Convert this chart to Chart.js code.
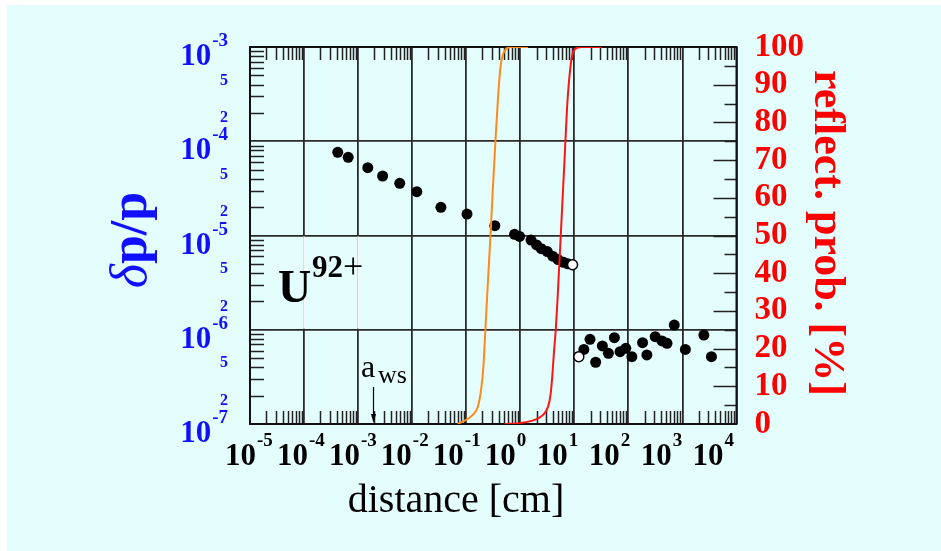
<!DOCTYPE html>
<html>
<head>
<meta charset="utf-8">
<script src="https://cdn.jsdelivr.net/npm/chart.js@4/dist/chart.umd.min.js"></script>
<style>
  html, body { margin: 0; padding: 0; background: #ffffff; }
  #panel { position: absolute; left: 7px; top: 5px; width: 934px; height: 546px; background: #e4fdfd; }
  #chart { position: absolute; left: 0; top: 0; }
</style>
</head>
<body>
<div id="panel"></div>
<canvas id="chart" width="941" height="551"></canvas>
<script>
// momentum spread before the transition region
const upperDist = [4.20e-4, 6.55e-4, 1.51e-3, 2.84e-3, 5.89e-3, 1.22e-2, 3.40e-2, 0.1035, 0.338,
                   0.783, 0.970, 1.58, 2.00, 2.45, 3.16, 3.98, 5.01, 6.31, 7.59];
const upperDp = [7.64e-5, 6.76e-5, 5.24e-5, 4.28e-5, 3.58e-5, 2.92e-5, 1.99e-5, 1.69e-5, 1.27e-5,
                 1.03e-5, 9.77e-6, 8.95e-6, 7.94e-6, 7.24e-6, 6.76e-6, 6.03e-6, 5.56e-6, 5.19e-6, 5.01e-6];

// momentum spread after it
const lowerDist = [15.0, 19.5, 24.8, 33.0, 42.7, 55.1, 70.1, 89.5, 116, 183, 220, 313, 418, 518,
                   706, 1132, 2489, 3443];
const lowerDp = [6.19e-7, 7.92e-7, 4.52e-7, 6.73e-7, 5.62e-7, 8.24e-7, 5.85e-7, 6.35e-7, 5.18e-7,
                 7.29e-7, 5.40e-7, 8.45e-7, 7.60e-7, 7.18e-7, 1.12e-6, 6.19e-7, 8.79e-7, 5.18e-7];

// the two open markers at the edges of the gap
const openDist = [9.27, 12.1];
const openDp = [4.90e-6, 5.18e-7];

// reflection probability curves [%]
const orangeDist = [0.0695, 0.0991, 0.132, 0.164, 0.188, 0.208, 0.226, 0.251, 0.281, 0.310,
                    0.348, 0.385, 0.419, 0.457, 0.526, 0.681, 1.39];
const orangeProb = [0, 1.1, 2.4, 4.6, 9.0, 15.2, 24.9, 37.3, 50.0, 62.0, 75.3, 85.9, 93.0, 97.0, 99.2, 100, 100];

const redDist = [0.511, 1.045, 1.845, 2.64, 3.27, 3.66, 3.94, 4.23, 4.53, 4.88, 5.24, 5.61, 6.04,
                 6.49, 6.85, 7.36, 7.91, 8.49, 9.14, 10.2, 13.6, 32.1];
const redProb = [0, 0.3, 1.1, 2.4, 4.6, 8.1, 13.4, 19.6, 24.9, 32.9, 41.7, 50.0, 59.4, 68.2, 75.3,
                 84.2, 90.4, 94.8, 97.9, 99.4, 100, 100];

// axis decades
const xDecades = [-5, -4, -3, -2, -1, 0, 1, 2, 3, 4];
const yDecades = [-7, -6, -5, -4, -3];
const awsDist = 1.9e-3;

const SERIF = '"Liberation Serif", "DejaVu Serif", serif';
const pts = (xs, ys) => xs.map((v, i) => ({ x: v, y: ys[i] }));

function powLabel(ctx, exp, left, base, color) {
  ctx.fillStyle = color;
  ctx.textAlign = 'left';
  ctx.textBaseline = 'alphabetic';
  ctx.font = 'bold 31px ' + SERIF;
  ctx.fillText('10', left, base);
  const w = ctx.measureText('10').width;
  ctx.font = 'bold 19px ' + SERIF;
  ctx.fillText(String(exp), left + w + 1, base - 19);
}

function powWidth(ctx, exp) {
  ctx.font = 'bold 31px ' + SERIF;
  const w = ctx.measureText('10').width;
  ctx.font = 'bold 19px ' + SERIF;
  return w + 1 + ctx.measureText(String(exp)).width;
}

const decorations = {
  id: 'decorations',
  beforeDatasetsDraw(chart) {
    const { ctx, chartArea: a, scales: { x, y, y2 } } = chart;
    ctx.save();

    // grid gap behind the ion label
    ctx.strokeStyle = '#ffffff';
    ctx.lineWidth = 1.8;
    [1e-4, 1e-3].forEach(v => {
      const px = x.getPixelForValue(v);
      ctx.beginPath();
      ctx.moveTo(px, y.getPixelForValue(1e-5) + 1);
      ctx.lineTo(px, y.getPixelForValue(1e-6) - 1);
      ctx.stroke();
    });

    ctx.strokeStyle = '#222';
    ctx.lineWidth = 1.5;
    ctx.beginPath();
    // inward minor ticks on top and bottom
    xDecades.slice(0, -1).forEach(e => {
      for (let m = 2; m <= 9; m++) {
        const px = Math.round(x.getPixelForValue(m * Math.pow(10, e))) + 0.5;
        ctx.moveTo(px, a.top); ctx.lineTo(px, a.top + 13);
        ctx.moveTo(px, a.bottom); ctx.lineTo(px, a.bottom - 13);
      }
    });
    // inward minor ticks on the left
    yDecades.slice(0, -1).forEach(e => {
      for (let m = 2; m <= 9; m++) {
        const py = Math.round(y.getPixelForValue(m * Math.pow(10, e))) + 0.5;
        ctx.moveTo(a.left, py); ctx.lineTo(a.left + 14, py);
      }
    });
    // percent ticks on the right: long every 10, short every 5
    for (let p = 5; p < 100; p += 5) {
      const py = Math.round(y2.getPixelForValue(p)) + 0.5;
      const len = p % 10 === 0 ? 23 : 12;
      ctx.moveTo(a.right, py); ctx.lineTo(a.right - len, py);
    }
    ctx.stroke();

    ctx.lineWidth = 2;
    ctx.strokeStyle = '#111';
    ctx.strokeRect(a.left, a.top, a.right - a.left, a.bottom - a.top);
    ctx.restore();
  },
  afterDraw(chart) {
    const { ctx, chartArea: a, scales: { x, y } } = chart;
    ctx.save();

    // left axis: decades with 2 and 5 in between
    yDecades.forEach(e => {
      const py = y.getPixelForValue(Math.pow(10, e));
      powLabel(ctx, e, 228 - powWidth(ctx, e), py + 18, '#1010ff');
      if (e < -3) {
        ctx.font = 'bold 16px ' + SERIF;
        ctx.textAlign = 'right';
        ctx.textBaseline = 'middle';
        [2, 5].forEach(m => {
          ctx.fillText(String(m), 228, y.getPixelForValue(m * Math.pow(10, e)) + 5);
        });
      }
    });

    // bottom axis: label row runs on a slightly tighter pitch than the decades
    xDecades.forEach((e, i) => {
      const px = x.getPixelForValue(Math.pow(10, e));
      powLabel(ctx, e, px - 25 - 2.1 * i, a.bottom + 41, '#000');
    });

    ctx.fillStyle = '#000';
    ctx.textAlign = 'center';
    ctx.textBaseline = 'alphabetic';
    ctx.font = '40px ' + SERIF;
    ctx.fillText('distance [cm]', 456, 512);

    // left axis title
    ctx.save();
    ctx.translate(146, 240);
    ctx.rotate(-Math.PI / 2);
    ctx.fillStyle = '#1010ff';
    ctx.font = 'italic 52px ' + SERIF;
    const wd = ctx.measureText('δ').width;
    ctx.font = 'bold 52px ' + SERIF;
    const wp = ctx.measureText('p/p').width;
    ctx.textAlign = 'left';
    ctx.font = 'italic 52px ' + SERIF;
    ctx.fillText('δ', -(wd + wp) / 2, 0);
    ctx.font = 'bold 52px ' + SERIF;
    ctx.fillText('p/p', -(wd + wp) / 2 + wd, 0);
    ctx.restore();

    // right axis title, reading downwards
    ctx.save();
    ctx.translate(815, 233);
    ctx.rotate(Math.PI / 2);
    ctx.fillStyle = '#ff0000';
    ctx.textAlign = 'center';
    ctx.font = 'bold 44px ' + SERIF;
    ctx.fillText('reflect. prob. [%]', 0, 0);
    ctx.restore();

    // ion label
    ctx.fillStyle = '#000';
    ctx.textAlign = 'left';
    ctx.font = 'bold 46px ' + SERIF;
    ctx.fillText('U', 278, 302);
    ctx.font = 'bold 31px ' + SERIF;
    ctx.fillText('92', 312, 277);
    ctx.font = '36px ' + SERIF;
    ctx.fillText('+', 343, 278);

    // Wigner-Seitz radius marker
    const ax = Math.round(x.getPixelForValue(awsDist)) + 0.5;
    ctx.font = '32px ' + SERIF;
    ctx.fillText('a', 361, 377);
    ctx.font = '26px ' + SERIF;
    ctx.fillText('ws', 378, 383);
    ctx.strokeStyle = '#000';
    ctx.lineWidth = 1.2;
    ctx.beginPath();
    ctx.moveTo(ax, 387); ctx.lineTo(ax, a.bottom - 6);
    ctx.stroke();
    ctx.beginPath();
    ctx.moveTo(ax, a.bottom - 1);
    ctx.lineTo(ax - 2.5, a.bottom - 10);
    ctx.lineTo(ax + 2.5, a.bottom - 10);
    ctx.closePath();
    ctx.fill();
    ctx.restore();
  }
};

const decadeTicks = list => scale => {
  scale.ticks = list.map(e => ({ value: Math.pow(10, e) }));
};

new Chart(document.getElementById('chart'), {
  type: 'scatter',
  data: {
    datasets: [
      {
        label: 'orange',
        data: pts(orangeDist, orangeProb),
        yAxisID: 'y2',
        showLine: true,
        borderColor: '#ff8a1c',
        borderWidth: 2,
        pointRadius: 0,
        cubicInterpolationMode: 'monotone',
        order: 0
      },
      {
        label: 'red',
        data: pts(redDist, redProb),
        yAxisID: 'y2',
        showLine: true,
        borderColor: '#ff1414',
        borderWidth: 2,
        pointRadius: 0,
        cubicInterpolationMode: 'monotone',
        order: 0
      },
      {
        label: 'open',
        data: pts(openDist, openDp),
        yAxisID: 'y',
        backgroundColor: '#ffffff',
        borderColor: '#000',
        borderWidth: 1.5,
        pointRadius: 5,
        order: 1
      },
      {
        label: 'upper',
        data: pts(upperDist, upperDp),
        yAxisID: 'y',
        backgroundColor: '#000',
        borderWidth: 0,
        pointRadius: 5.5,
        order: 2
      },
      {
        label: 'lower',
        data: pts(lowerDist, lowerDp),
        yAxisID: 'y',
        backgroundColor: '#000',
        borderWidth: 0,
        pointRadius: 5.5,
        order: 2
      }
    ]
  },
  options: {
    responsive: false,
    animation: false,
    layout: { padding: { left: 250, top: 47, bottom: 127, right: 119 } },
    plugins: { legend: { display: false }, tooltip: { enabled: false } },
    scales: {
      x: {
        type: 'logarithmic',
        min: 1e-5,
        max: 1e4,
        afterBuildTicks: decadeTicks(xDecades),
        ticks: { display: false },
        grid: { color: '#2a2a2a', lineWidth: 1.8, drawTicks: false },
        border: { display: false }
      },
      y: {
        type: 'logarithmic',
        position: 'left',
        min: 1e-7,
        max: 1e-3,
        afterBuildTicks: decadeTicks(yDecades),
        ticks: { display: false },
        grid: { color: '#2a2a2a', lineWidth: 1.8, drawTicks: false },
        border: { display: false }
      },
      y2: {
        type: 'linear',
        position: 'right',
        min: 0,
        max: 100,
        ticks: {
          stepSize: 10,
          autoSkip: false,
          color: '#ff0000',
          padding: 18,
          font: { family: SERIF, weight: 'bold', size: 33 }
        },
        grid: { display: false, drawTicks: false },
        border: { display: false }
      }
    }
  },
  plugins: [decorations]
});
</script>
</body>
</html>
